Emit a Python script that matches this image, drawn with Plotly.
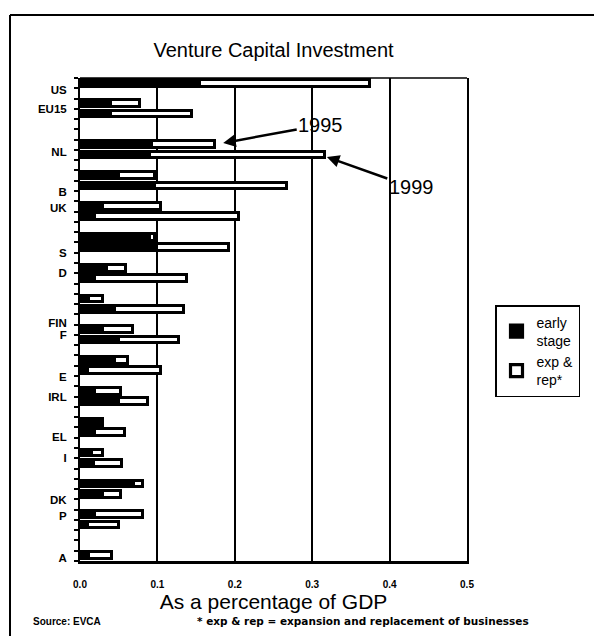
import plotly.graph_objects as go

# ---------------- data ----------------
countries = ["US", "EU15", "NL", "B", "UK", "S", "D", "FIN", "F", "E",
             "IRL", "EL", "I", "DK", "P", "A"]
early_1995 = [0.155, 0.040, 0.093, 0.050, 0.030, 0.090, 0.035, 0.012,
              0.030, 0.045, 0.020, 0.030, 0.015, 0.070, 0.020, None]
exp_1995 = [0.220, 0.037, 0.081, 0.047, 0.075, 0.007, 0.025, 0.018,
            0.038, 0.017, 0.033, 0.000, 0.015, 0.012, 0.062, None]
early_1999 = [None, 0.040, 0.090, 0.097, 0.020, 0.100, 0.020, 0.045,
              0.050, 0.010, 0.050, 0.020, 0.018, 0.030, 0.010, 0.012]
exp_1999 = [None, 0.105, 0.226, 0.170, 0.185, 0.093, 0.118, 0.090,
            0.078, 0.095, 0.038, 0.038, 0.036, 0.023, 0.041, 0.029]
x_ticks = [0.0, 0.1, 0.2, 0.3, 0.4, 0.5]
x_ticktext = ["0.0", "0.1", "0.2", "0.3", "0.4", "0.5"]

# ---------------- layout helpers ----------------
FONT = "Arial, Liberation Sans, sans-serif"
W, H = 594, 636
L, R, T, B = 80, 127, 78, 75
pw, ph = W - L - R, H - T - B

# row (slot) where each country's 1995 bar sits; the 1999 bar is the next row
group_start = [0, 2] + [6 + 3 * c for c in range(len(countries) - 2)]
n_slots = group_start[-1] + 2
slot_h = ph / n_slots
# pixel rows of the country labels as they appear on the scanned chart
label_px = [90, 109, 152, 192, 208, 253, 273, 323, 335, 377, 397, 437,
            458, 500, 516, 558]


def slot_of(py):
    return (py - T) / slot_h - 0.5


def px_x(px):
    return (px - L) / pw


def px_y(py):
    return (H - B - py) / ph


ys, early_vals, exp_vals = [], [], []
for i in range(len(countries)):
    for off, e_arr, x_arr in ((0, early_1995, exp_1995), (1, early_1999, exp_1999)):
        if e_arr[i] is None:
            continue
        ys.append(group_start[i] + off)
        early_vals.append(e_arr[i])
        exp_vals.append(x_arr[i])

BAR_W = 0.66
LINE_W = 3.2

fig = go.Figure()
fig.add_trace(go.Bar(
    y=ys, x=early_vals, orientation="h", name="early<br>stage",
    marker=dict(color="black", line=dict(color="black", width=LINE_W)),
    width=BAR_W,
))
fig.add_trace(go.Bar(
    y=ys, x=exp_vals, orientation="h", name="exp &<br>rep*",
    marker=dict(color="white", line=dict(color="black", width=LINE_W)),
    width=BAR_W,
))

fig.add_annotation(x=0.185, y=slot_of(143), ax=0.311, ay=slot_of(125),
                   xref="x", yref="y", axref="x", ayref="y",
                   text="1995", showarrow=True, arrowhead=2, arrowsize=1,
                   arrowwidth=2.5, arrowcolor="black",
                   font=dict(family=FONT, size=20, color="black"))
fig.add_annotation(x=0.319, y=slot_of(157), ax=0.428, ay=slot_of(187),
                   xref="x", yref="y", axref="x", ayref="y",
                   text="1999", showarrow=True, arrowhead=2, arrowsize=1,
                   arrowwidth=2.5, arrowcolor="black",
                   font=dict(family=FONT, size=20, color="black"))

fig.add_annotation(x=px_x(31), y=px_y(621), xref="paper", yref="paper",
                   xanchor="left", yanchor="middle", showarrow=False,
                   text="<b>Source: EVCA</b>",
                   font=dict(family=FONT, size=10, color="black"))
fig.add_annotation(x=px_x(195), y=px_y(621), xref="paper", yref="paper",
                   xanchor="left", yanchor="middle", showarrow=False,
                   text="<b>* exp &amp; rep = expansion and replacement of businesses</b>",
                   font=dict(family="DejaVu Sans, sans-serif", size=10.5, color="black"))

# outer frame (top and left) and plot top border
fig.add_shape(type="line", xref="paper", yref="paper",
              x0=px_x(10), x1=px_x(594), y0=px_y(15), y1=px_y(15),
              line=dict(color="black", width=2))
fig.add_shape(type="line", xref="paper", yref="paper",
              x0=px_x(10), x1=px_x(10), y0=px_y(15), y1=px_y(636),
              line=dict(color="black", width=2))
fig.add_shape(type="line", xref="paper", yref="paper",
              x0=0, x1=1, y0=1, y1=1, line=dict(color="black", width=1.5))

fig.update_layout(
    width=W, height=H,
    margin=dict(l=L, r=R, t=T, b=B, autoexpand=False),
    paper_bgcolor="white", plot_bgcolor="white",
    barmode="stack", bargap=0,
    title=dict(text="Venture Capital Investment", x=(L + pw / 2) / W,
               xanchor="center", y=1 - 50 / H, yanchor="middle",
               font=dict(family=FONT, size=20, color="black")),
    legend=dict(x=px_x(495), y=px_y(305), xanchor="left", yanchor="top",
                bordercolor="black", borderwidth=1.5, bgcolor="white",
                font=dict(family=FONT, size=14, color="black"),
                traceorder="normal", itemwidth=30),
    showlegend=True,
    xaxis=dict(range=[0, 0.5], tickvals=x_ticks, ticktext=x_ticktext,
               showgrid=True, gridcolor="black", gridwidth=1.5,
               showline=True, linecolor="black", linewidth=3,
               ticks="", ticklabelstandoff=12, zeroline=False,
               tickfont=dict(family=FONT, size=10, color="black", weight="bold"),
               title=dict(text="As a percentage of GDP", standoff=2,
                          font=dict(family=FONT, size=21, color="black"))),
    yaxis=dict(range=[n_slots - 0.5, -0.5],
               tickvals=[slot_of(p) for p in label_px],
               ticktext=countries, showgrid=False, zeroline=False,
               showline=True, linecolor="black", linewidth=2, mirror=True,
               ticks="", ticklabelstandoff=9,
               minor=dict(tick0=-0.5, dtick=1, ticks="outside", ticklen=4,
                          tickcolor="black", tickwidth=1.5, showgrid=False),
               tickfont=dict(family=FONT, size=11.5, color="black", weight="bold")),
)

fig.write_html("out.html", config={"displayModeBar": False},
               post_script="document.body.style.margin='0';")
